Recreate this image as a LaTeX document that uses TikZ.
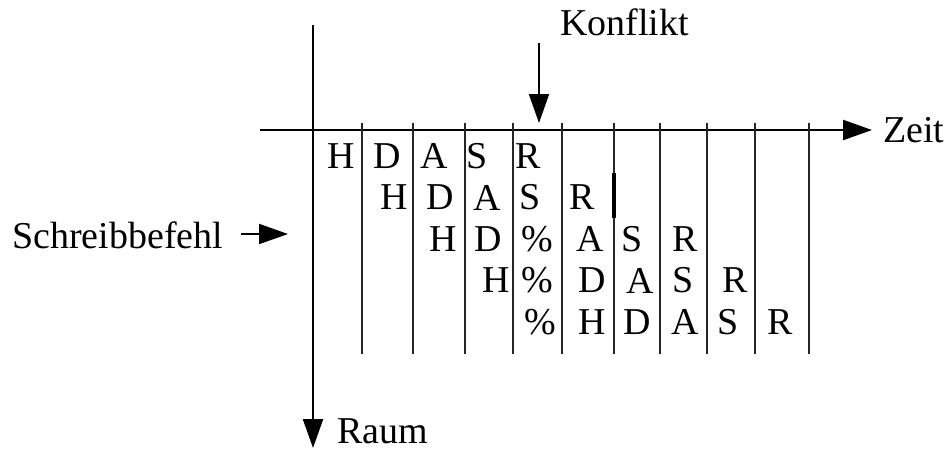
\documentclass[tikz,border=0pt]{standalone}
\usepackage{fontspec}
\setmainfont{Liberation Serif}
\usetikzlibrary{arrows.meta}

\begin{document}
\begin{tikzpicture}[font=\fontsize{21.6}{26}\selectfont, >={Triangle[length=0.58cm, width=0.4cm]},
  axis/.style={line width=1.3pt}, lane/.style={line width=0.6pt, black!85}, chr/.style={inner sep=0pt}]
\useasboundingbox (-6.26,-6.4) rectangle (12.68,2.6);
% axes
\coordinate (tl) at (-1.06,0); \coordinate (rtop) at (0,2.1); \coordinate (rbot) at (0,-6.36);
\node[anchor=west, inner xsep=0.22cm, inner ysep=0pt] (zeit) at (11.18,0) {Zeit};
\node[anchor=base west, inner sep=0pt] (raum) at (0.48,-6.26) {Raum};
\draw[->, axis] (tl) -- (zeit.west);
\draw[->, axis] (rtop) -- (rbot);
% time slots
\foreach \x in {0.98,2.0,3.04,4.0,4.98,6.02,6.94,7.88,8.84,9.92}
  \draw[lane] (\x,0.14) -- (\x,-4.48);
\draw[line width=1.8pt] (6.02,-0.86) -- (6.02,-1.76);
% conflict and write command
\node[anchor=base, inner sep=0pt] (konflikt) at (6.23,1.9) {Konflikt};
\coordinate (kf) at (4.52,1.74); \coordinate (kt) at (4.52,0.14);
\draw[->, line width=1.1pt] (kf) -- (kt);
\node[anchor=base west, inner xsep=0.36cm, inner ysep=0pt] (schreib) at (-6.38,-2.36) {Schreibbefehl};
\coordinate (st) at (-0.5,-2.08);
\draw[->, line width=1.1pt] (schreib.east |- st) -- (st);
% pipeline stages
\node[chr] (h1) at (0.56,-0.52) {H}; \node[chr] (d1) at (1.48,-0.52) {D}; \node[chr] (a1) at (2.42,-0.52) {A};
\node[chr] (s1) at (3.28,-0.52) {S}; \node[chr] (r1) at (4.3,-0.52) {R};
\node[chr] (h2) at (1.63,-1.35) {H}; \node[chr] (d2) at (2.54,-1.35) {D}; \node[chr] (a2) at (3.48,-1.35) {A};
\node[chr] (s2) at (4.34,-1.35) {S}; \node[chr] (r2) at (5.38,-1.35) {R};
\node[chr] (h3) at (2.6,-2.18) {H}; \node[chr] (d3) at (3.51,-2.18) {D}; \node[chr] (p3) at (4.48,-2.18) {\%};
\node[chr] (a3) at (5.54,-2.18) {A}; \node[chr] (s3) at (6.38,-2.18) {S}; \node[chr] (r3) at (7.44,-2.18) {R};
\node[chr] (h4) at (3.66,-3.01) {H}; \node[chr] (p4) at (4.48,-3.01) {\%}; \node[chr] (d4) at (5.58,-3.01) {D};
\node[chr] (a4) at (6.54,-3.01) {A}; \node[chr] (s4) at (7.4,-3.01) {S}; \node[chr] (r4) at (8.44,-3.01) {R};
\node[chr] (p5) at (4.54,-3.84) {\%}; \node[chr] (h5) at (5.58,-3.84) {H}; \node[chr] (d5) at (6.49,-3.84) {D};
\node[chr] (a5) at (7.44,-3.84) {A}; \node[chr] (s5) at (8.3,-3.84) {S}; \node[chr] (r5) at (9.34,-3.84) {R};
\end{tikzpicture}
\end{document}
